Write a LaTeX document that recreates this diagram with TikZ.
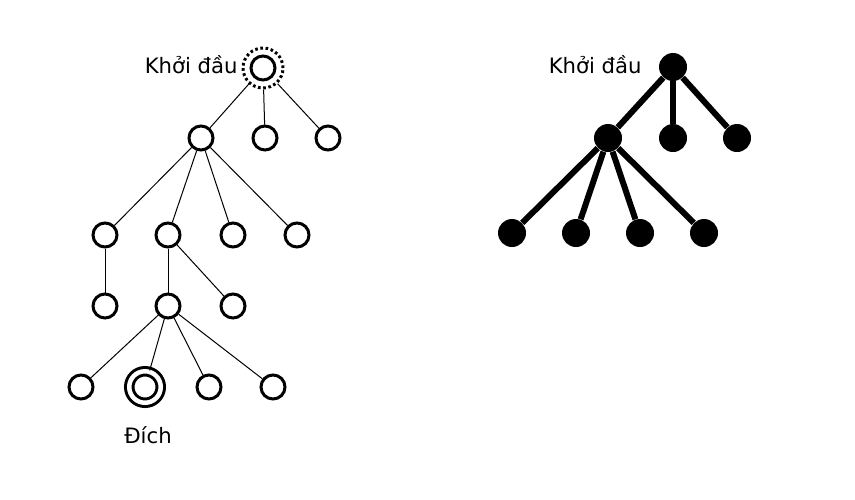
\documentclass[tikz,border=0pt]{standalone}
\usepackage{fontspec}
\setmainfont{DejaVu Sans}
\usetikzlibrary{positioning}
\begin{document}
\begin{tikzpicture}[x=0.5pt,y=-0.5pt,
        vert/.style={draw,circle,line width=1.5pt,minimum size=12pt,inner sep=0pt},
        goalvert/.style={draw,circle,line width=1.5pt,double,double distance=2.25pt,minimum size=15.75pt,inner sep=0pt},
        ring/.style={draw,circle,line width=1.5pt,dash pattern=on 1.31pt off 1.31pt,minimum size=20pt,inner sep=0pt},
        fullvert/.style={circle,fill,minimum size=14pt,inner sep=0pt},
        lbl/.style={inner sep=0pt,font=\fontsize{10.6}{12}\selectfont},
        thin edge/.style={line width=0.5pt},
        fat edge/.style={line width=3pt}]
        \useasboundingbox (0,0) rectangle (855,499);

        \node[vert] (s) at (263,68) {};
        \node[ring] (sring) at (263,68) {};
        \node[vert] (a) at (201,138) {};
        \node[vert] (b) at (265,138) {};
        \node[vert] (c) at (328,138) {};
        \node[vert] (d) at (105,235) {};
        \node[vert] (e) at (168,235) {};
        \node[vert] (f) at (233,235) {};
        \node[vert] (g) at (297,235) {};
        \node[vert] (h) at (105,306) {};
        \node[vert] (i) at (168,306) {};
        \node[vert] (j) at (233,306) {};
        \node[vert] (k) at (81,387) {};
        \node[goalvert] (goal) at (145,387) {};
        \node[vert] (m) at (209,387) {};
        \node[vert] (n) at (273,387) {};
        \node[lbl,anchor=base east] (startl) at (238,73) {Khởi đầu};
        \node[lbl,anchor=base] (goall) at (148,443) {Đích};

        \draw[thin edge] (sring) -- (a);
        \draw[thin edge] (sring) -- (b);
        \draw[thin edge] (sring) -- (c);
        \draw[thin edge] (a) -- (d);
        \draw[thin edge] (a) -- (e);
        \draw[thin edge] (a) -- (f);
        \draw[thin edge] (a) -- (g);
        \draw[thin edge] (d) -- (h);
        \draw[thin edge] (e) -- (i);
        \draw[thin edge] (e) -- (j);
        \draw[thin edge] (i) -- (k);
        \draw[thin edge] (i) -- (goal);
        \draw[thin edge] (i) -- (m);
        \draw[thin edge] (i) -- (n);

        \node[fullvert] (r) at (673,67) {};
        \node[fullvert] (p) at (608,138) {};
        \node[fullvert] (q) at (673,138) {};
        \node[fullvert] (t) at (737,138) {};
        \node[fullvert] (p1) at (512,233) {};
        \node[fullvert] (p2) at (576,233) {};
        \node[fullvert] (p3) at (640,233) {};
        \node[fullvert] (p4) at (704,233) {};
        \node[lbl,anchor=base east] (rstartl) at (642,73) {Khởi đầu};

        \draw[fat edge] (r) -- (p);
        \draw[fat edge] (r) -- (q);
        \draw[fat edge] (r) -- (t);
        \draw[fat edge] (p) -- (p1);
        \draw[fat edge] (p) -- (p2);
        \draw[fat edge] (p) -- (p3);
        \draw[fat edge] (p) -- (p4);
    \end{tikzpicture}
\end{document}
